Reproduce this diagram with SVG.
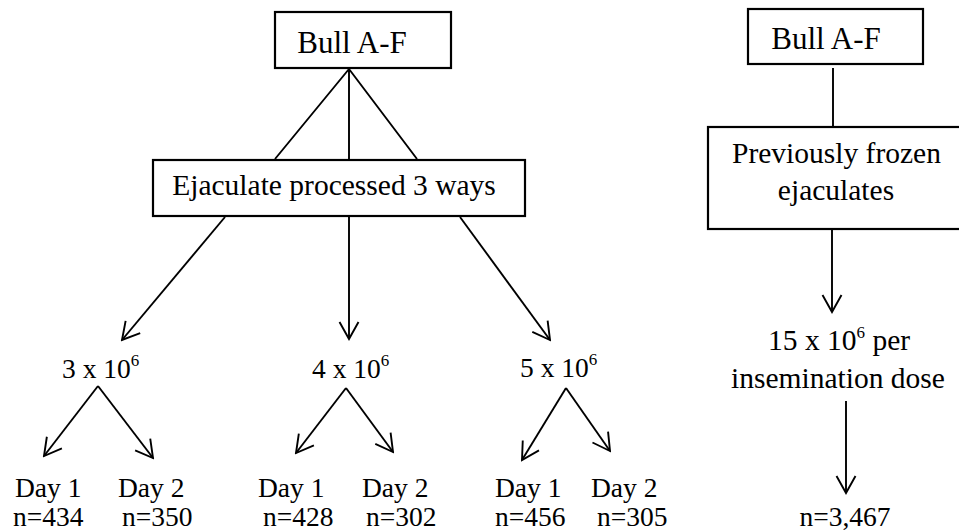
<svg xmlns="http://www.w3.org/2000/svg" width="959" height="532" viewBox="0 0 959 532">
  <style>
    .box { fill: #fff; stroke: #000; stroke-width: 2.2; }
    .ln { fill: none; stroke: #000; stroke-width: 1.9; }
    .arr { fill: none; stroke: #000; stroke-width: 1.9; marker-end: url(#vhead); }
    text { font-family: "Liberation Serif", "Times New Roman", serif; fill: #000; }
    .t31 { font-size: 31px; }
    .t29 { font-size: 29.5px; }
    .t28 { font-size: 27.5px; }
    .sup { font-size: 17px; }
    .mid { text-anchor: middle; }
  </style>
  <defs>
    <marker id="vhead" markerUnits="userSpaceOnUse" viewBox="-20 -12 22 24" markerWidth="22" markerHeight="24" refX="0" refY="0" orient="auto">
      <path d="M-17,-9.5 L0,0 L-17,9.5" fill="none" stroke="#000" stroke-width="1.9"/>
    </marker>
  </defs>

  <rect width="959" height="532" fill="#fff"/>

  <g id="connectors">
    <!-- fan from first bull box to processing box -->
    <path class="ln" d="M349,69 L275,159 M349,69 L349,159 M349,69 L417,159"/>
    <!-- three processing routes -->
    <path class="arr" d="M225,217 L122,340"/>
    <path class="arr" d="M349,217 L349,339"/>
    <path class="arr" d="M460,217 L550,340"/>
    <!-- day splits -->
    <path class="arr" d="M98,386 L44,456"/>
    <path class="arr" d="M98,386 L153,458"/>
    <path class="arr" d="M346,388 L296,453"/>
    <path class="arr" d="M346,388 L393,452"/>
    <path class="arr" d="M566,388 L522,460"/>
    <path class="arr" d="M566,388 L610,451"/>
    <!-- frozen branch -->
    <path class="ln" d="M833,68 L833,127"/>
    <path class="arr" d="M832,229 L832,312"/>
    <path class="arr" d="M846,401 L846,493"/>
  </g>

  <g id="bull-left">
    <rect class="box" x="275" y="12" width="176" height="56"/>
    <text class="t31 mid" x="352" y="53">Bull A-F</text>
  </g>

  <g id="processed">
    <rect class="box" x="153" y="160" width="372" height="56"/>
    <text class="t29 mid" x="334" y="195">Ejaculate processed 3 ways</text>
  </g>

  <g id="dose-3">
    <text class="t28" x="62" y="378">3 x 10<tspan class="sup" dy="-12">6</tspan></text>
  </g>
  <g id="dose-4">
    <text class="t28" x="312" y="378">4 x 10<tspan class="sup" dy="-12">6</tspan></text>
  </g>
  <g id="dose-5">
    <text class="t28" x="520" y="377">5 x 10<tspan class="sup" dy="-12">6</tspan></text>
  </g>

  <g id="d3-day1">
    <text class="t28" x="15" y="497">Day 1</text>
    <text class="t28" x="13" y="526">n=434</text>
  </g>
  <g id="d3-day2">
    <text class="t28" x="118" y="497">Day 2</text>
    <text class="t28" x="122" y="526">n=350</text>
  </g>
  <g id="d4-day1">
    <text class="t28" x="258" y="497">Day 1</text>
    <text class="t28" x="263" y="526">n=428</text>
  </g>
  <g id="d4-day2">
    <text class="t28" x="362" y="497">Day 2</text>
    <text class="t28" x="366" y="526">n=302</text>
  </g>
  <g id="d5-day1">
    <text class="t28" x="495" y="497">Day 1</text>
    <text class="t28" x="495" y="526">n=456</text>
  </g>
  <g id="d5-day2">
    <text class="t28" x="591" y="497">Day 2</text>
    <text class="t28" x="597" y="526">n=305</text>
  </g>

  <g id="bull-right">
    <rect class="box" x="748" y="9" width="175" height="55"/>
    <text class="t31 mid" x="826" y="49">Bull A-F</text>
  </g>

  <g id="frozen">
    <rect class="box" x="708" y="127" width="260" height="102"/>
    <text class="t29 mid" x="836.5" y="163">Previously frozen</text>
    <text class="t29 mid" x="836" y="200">ejaculates</text>
  </g>

  <g id="dose-15">
    <text class="t29" x="768" y="350">15 x 10<tspan class="sup" dy="-12">6</tspan><tspan dy="12"> per</tspan></text>
    <text class="t29 mid" x="838" y="388">insemination dose</text>
  </g>

  <g id="total">
    <text class="t28 mid" x="845" y="526">n=3,467</text>
  </g>
</svg>
